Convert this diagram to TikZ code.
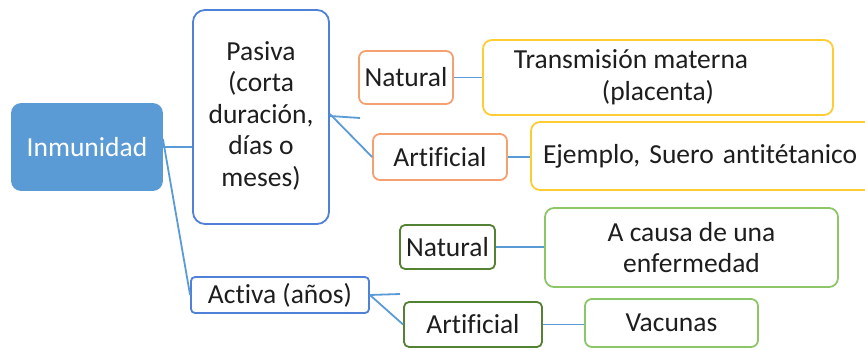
\documentclass[tikz,border=0pt]{standalone}
\usepackage{fontspec}
\setmainfont[Ligatures=NoCommon]{Carlito}
\definecolor{blfill}{HTML}{5B9BD5}
\definecolor{blline}{HTML}{5B9BD5}
\definecolor{blborder}{HTML}{4F81D9}
\definecolor{orborder}{HTML}{F4A070}
\definecolor{yeborder}{HTML}{FFCC33}
\definecolor{dgborder}{HTML}{548235}
\definecolor{lgborder}{HTML}{8CC668}
\definecolor{txt}{HTML}{1E1E1E}
\begin{document}
\begin{tikzpicture}[x=1pt,y=-1pt,
  every node/.style={font=\fontsize{27.5}{31.5}\selectfont, text=txt, inner sep=0pt, align=center},
  bx/.style={draw, line width=1.8pt, rounded corners=7pt, fill=white},
  conn/.style={draw=blline, line width=1.8pt}]
\useasboundingbox (0,0) rectangle (865,350);
\node[bx, draw=blfill, fill=blfill, text=white, minimum width=150pt, minimum height=86pt, rounded corners=9pt] (inm) at (87,147) {Inmunidad};
\node[bx, draw=blborder, minimum width=136pt, minimum height=214pt, rounded corners=12pt] (pas) at (261,117) {\raisebox{-5pt}{\begin{tabular}{@{}c@{}}Pasiva\\(corta\\duración,\\días o\\meses)\end{tabular}}};
\node[bx, draw=blborder, minimum width=178pt, minimum height=36pt, rounded corners=4pt] (act) at (280,295) {Activa (años)};
\node[bx, draw=orborder, minimum width=94pt, minimum height=53pt] (natO) at (406,77.5) {Natural};
\node[bx, draw=orborder, minimum width=134pt, minimum height=46pt] (artO) at (440,157) {Artificial};
\node[bx, draw=yeborder, minimum width=350pt, minimum height=75pt, rounded corners=9pt] (tra) at (658,77.5) {Transmisión materna\hspace*{54pt}\\(placenta)};
\node[bx, draw=yeborder, minimum width=369pt, minimum height=68pt, rounded corners=9pt, text width=345pt, align=left] (eje) at (715.5,156) {Ejemplo, Suero antitétanico};
\node[bx, draw=dgborder, minimum width=95pt, minimum height=44pt, rounded corners=5pt] (natG) at (447.5,247) {Natural};
\node[bx, draw=dgborder, minimum width=138pt, minimum height=45pt, rounded corners=5pt] (artG) at (473,324.5) {Artificial};
\node[bx, draw=lgborder, minimum width=293pt, minimum height=79pt, rounded corners=9pt] (cau) at (691.5,247.5) {A causa de una\\enfermedad};
\node[bx, draw=lgborder, minimum width=173pt, minimum height=48pt, rounded corners=7pt] (vac) at (671.5,323) {Vacunas};
\coordinate (pstub) at (360,118);
\coordinate (astub) at (400,294);
\draw[conn] (inm.east) -- (inm.east -| pas.west);
\draw[conn] ([yshift=8pt]inm.east) -- (act.west);
\draw[conn] ([yshift=1pt]pas.east) -- (pstub);
\draw[conn] ([yshift=3pt]pas.east) -- (artO.west);
\draw[conn] (act.east) -- (astub);
\draw[conn] (act.east) -- (artG.west);
\draw[conn] (natO.east) -- (natO.east -| tra.west);
\draw[conn] (artO.east) -- (artO.east -| eje.west);
\draw[conn] (natG.east) -- (natG.east -| cau.west);
\draw[conn] (artG.east) -- (artG.east -| vac.west);
\end{tikzpicture}
\end{document}
